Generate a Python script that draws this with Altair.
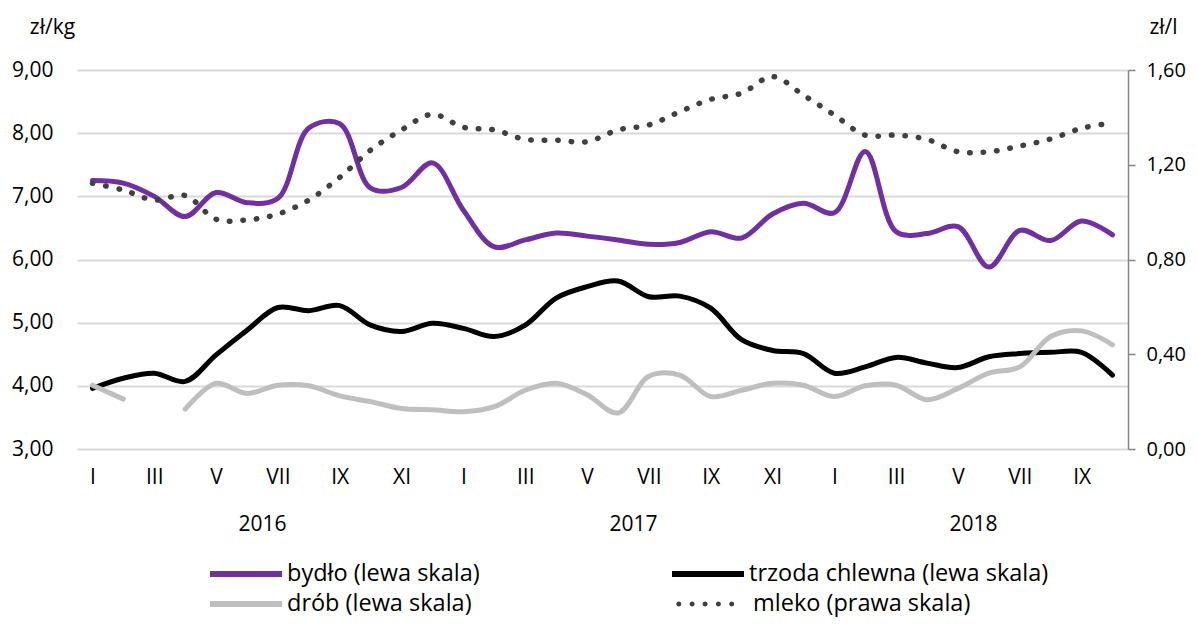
import altair as alt
import pandas as pd

month_names = ["I", "II", "III", "IV", "V", "VI", "VII", "VIII", "IX", "X", "XI", "XII"]
years = ["2016", "2017", "2018"]
months_per_year = [12, 12, 10]  # I 2016 – X 2018

row1_names = ["bydło (lewa skala)", "trzoda chlewna (lewa skala)"]
row1_colors = ["#7030A0", "#000000"]
drob_name = "drób (lewa skala)"
drob_color = "#BFBFBF"
mleko_name = "mleko (prawa skala)"
mleko_color = "#404040"

bydlo = [7.25, 7.21, 7.00, 6.68, 7.06, 6.90, 6.97, 8.08, 8.15, 7.13, 7.14, 7.53,
         6.78, 6.20, 6.31, 6.42, 6.37, 6.31, 6.24, 6.27, 6.44, 6.34, 6.72, 6.89,
         6.74, 7.71, 6.44, 6.41, 6.52, 5.88, 6.46, 6.30, 6.61, 6.39]
trzoda = [3.96, 4.12, 4.20, 4.07, 4.49, 4.88, 5.24, 5.19, 5.27, 4.96, 4.86, 4.99,
          4.91, 4.78, 4.96, 5.39, 5.57, 5.66, 5.41, 5.42, 5.23, 4.73, 4.56, 4.51,
          4.20, 4.30, 4.45, 4.36, 4.29, 4.46, 4.51, 4.53, 4.53, 4.17]
drob = [4.01, 3.79, None, 3.63, 4.04, 3.88, 4.01, 4.00, 3.84, 3.75, 3.64, 3.62,
        3.59, 3.67, 3.93, 4.04, 3.86, 3.57, 4.15, 4.17, 3.83, 3.93, 4.04, 4.01,
        3.83, 4.00, 4.01, 3.78, 3.96, 4.20, 4.30, 4.78, 4.87, 4.65]
mleko = [1.122, 1.093, 1.051, 1.070, 0.970, 0.967, 0.992, 1.051, 1.147, 1.262, 1.347, 1.413,
         1.358, 1.347, 1.307, 1.304, 1.297, 1.347, 1.368, 1.424, 1.476, 1.502, 1.572, 1.494,
         1.410, 1.325, 1.325, 1.307, 1.255, 1.255, 1.279, 1.309, 1.354, 1.377]

left_ticks = [3, 4, 5, 6, 7, 8, 9]
right_ticks = [0, 0.4, 0.8, 1.2, 1.6]

n_months = sum(months_per_year)
FONT = "Open Sans"
SYM = 72  # legend symbol length in px
LEG_FS = 23.5

# ---- data tables ----
def to_rows(name, vals):
    rows, seg = [], 0
    for i, v in enumerate(vals):
        if v is None:
            seg += 1
            continue
        rows.append({"m": i, "v": v, "series": name, "seg": f"{name}-{seg}"})
    return pd.DataFrame(rows)

bydlo_df = to_rows(row1_names[0], bydlo)
trzoda_df = to_rows(row1_names[1], trzoda)
drob_df = to_rows(drob_name, drob)
mleko_df = pd.DataFrame({"m": list(range(n_months)), "v": mleko, "series": mleko_name})

starts = [sum(months_per_year[:k]) for k in range(len(years))]
year_df = pd.DataFrame({
    "m": [s + (c - 1) / 2 for s, c in zip(starts, months_per_year)],
    "year": years,
})

# ---- encodings ----
label_expr_x = "[" + ",".join(f"'{m}'" for m in month_names) + "][datum.value % 12]"
num_expr = "replace(format(datum.value, '.2f'), '.', ',')"

x_enc = alt.X(
    "m:Q",
    scale=alt.Scale(domain=[-0.5, n_months - 0.5], nice=False, zero=False),
    axis=alt.Axis(values=list(range(0, n_months, 2)), labelExpr=label_expr_x, title=None,
                  grid=False, domain=False, ticks=False, labelFontSize=21, labelPadding=17,
                  labelColor="#000000", labelFont=FONT, labelOverlap=False, labelFlush=False),
)

y_left = alt.Y(
    "v:Q",
    scale=alt.Scale(domain=[left_ticks[0], left_ticks[-1]], nice=False, zero=False),
    axis=alt.Axis(values=left_ticks, labelExpr=num_expr, title="zł/kg", titleAngle=0,
                  titleAlign="center", titleBaseline="alphabetic", titleX=-25, titleY=-37,
                  titleFontSize=21, titleFontWeight="normal", titleFont=FONT, titleColor="#000000",
                  grid=True, gridColor="#D9D9D9", gridWidth=2, domain=False, ticks=False,
                  labelPadding=24, labelFontSize=21, labelFont=FONT, labelColor="#000000"),
)

y_right = alt.Y(
    "v:Q",
    scale=alt.Scale(domain=[right_ticks[0], right_ticks[-1]], nice=False, zero=True),
    axis=alt.Axis(orient="right", values=right_ticks, labelExpr=num_expr, title="zł/l", titleAngle=0,
                  titleAlign="center", titleBaseline="alphabetic", titleX=35, titleY=-37,
                  titleFontSize=21, titleFontWeight="normal", titleFont=FONT, titleColor="#000000",
                  grid=False, domain=True, domainColor="#868686", domainWidth=1.5,
                  ticks=True, tickColor="#868686", tickSize=7, tickWidth=1.5,
                  labelPadding=11, labelFontSize=20, labelFont=FONT, labelColor="#000000"),
)

common_leg = dict(title=None, orient="none", symbolSize=SYM * SYM, labelFontSize=LEG_FS,
                  labelFont=FONT, labelLimit=600, padding=0, labelColor="#000000")

color_enc = alt.Color(
    "series:N",
    scale=alt.Scale(domain=row1_names, range=row1_colors),
    legend=alt.Legend(direction="horizontal", legendX=130, legendY=465, columnPadding=180,
                      symbolType="stroke", symbolStrokeWidth=6, labelOffset=2, **common_leg),
)

stroke_enc = alt.Stroke(
    "series:N",
    scale=alt.Scale(domain=[drob_name], range=[drob_color]),
    legend=alt.Legend(direction="horizontal", legendX=130, legendY=495,
                      symbolType="stroke", symbolStrokeWidth=6, labelOffset=2, **common_leg),
)

dot_r = 0.07
dots_path = " ".join(
    f"M{c - dot_r:.3f},0 a{dot_r},{dot_r} 0 1,0 {2 * dot_r:.3f},0 a{dot_r},{dot_r} 0 1,0 {-2 * dot_r:.3f},0"
    for c in [-0.95, -0.58, -0.22, 0.15, 0.52]
)

dash_enc = alt.StrokeDash(
    "series:N",
    scale=alt.Scale(domain=[mleko_name], range=[[0.5, 13]]),
    legend=alt.Legend(legendX=600, legendY=498, symbolType=dots_path, symbolStrokeWidth=0,
                      symbolFillColor=mleko_color, labelOffset=4, **common_leg),
)

line_kw = dict(interpolate="catmull-rom", strokeWidth=5, strokeCap="round")

bydlo_layer = alt.Chart(bydlo_df).mark_line(**line_kw).encode(x=x_enc, y=y_left, color=color_enc)
trzoda_layer = alt.Chart(trzoda_df).mark_line(**line_kw).encode(x=x_enc, y=y_left, color=color_enc)
drob_layer = alt.Chart(drob_df).mark_line(**line_kw).encode(
    x=x_enc, y=y_left, stroke=stroke_enc, detail="seg:N"
)
left = alt.layer(bydlo_layer, trzoda_layer, drob_layer)

right = alt.Chart(mleko_df).mark_line(
    interpolate="catmull-rom", strokeWidth=5.5, strokeCap="round", color=mleko_color
).encode(x=x_enc, y=y_right, strokeDash=dash_enc)

year_text = alt.Chart(year_df).mark_text(fontSize=21, font=FONT, color="#000000", baseline="middle").encode(
    x=alt.X("m:Q"), y=alt.value(455), text="year:N"
)

chart = (
    alt.layer(left, right, year_text)
    .resolve_scale(y="independent")
    .properties(
        width=1051, height=379,
        autosize=alt.AutoSizeParams(type="none"),
        padding={"left": 69, "top": 62, "right": 61, "bottom": 168},
        background="white",
    )
    .configure_view(stroke=None)
)

chart.save("out.html", embed_options={"renderer": "svg", "actions": False})
